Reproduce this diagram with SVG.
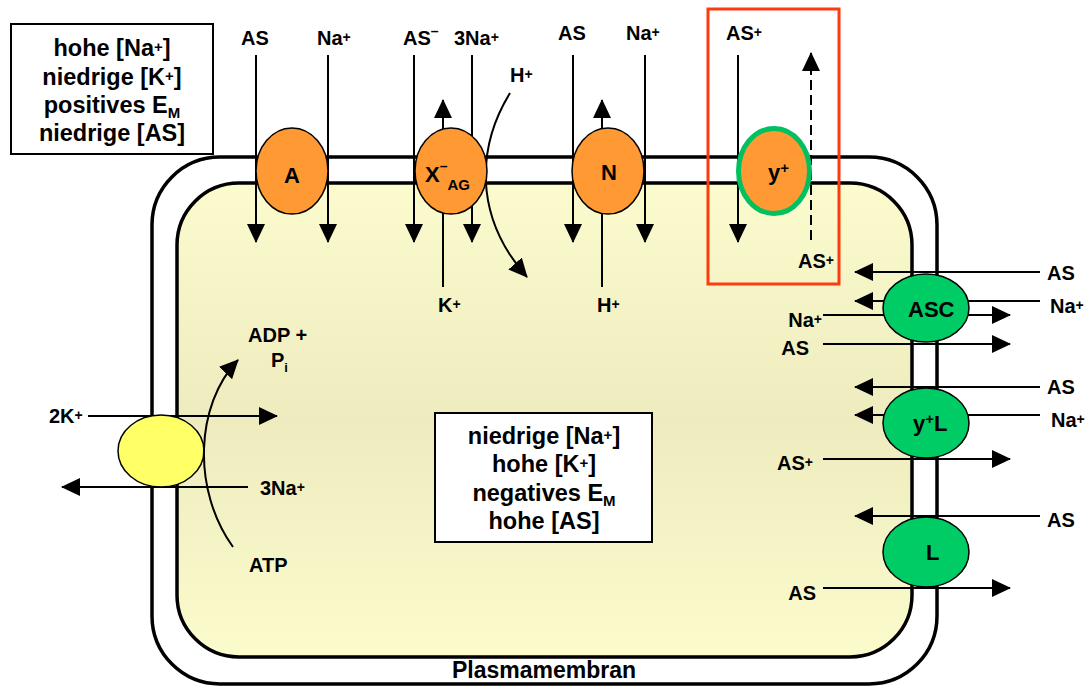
<svg xmlns="http://www.w3.org/2000/svg" width="1088" height="686" viewBox="0 0 1088 686">
<style>
text{font-family:"Liberation Sans",Arial,sans-serif;font-weight:bold;fill:#000}
.lbl{font-size:20px}
.box{font-size:23.5px;text-anchor:middle}
.tp{font-size:22px}
.ln{stroke:#000;stroke-width:2;fill:none}
.mem{stroke:#000;stroke-width:3.5}
.orange{fill:#FF9933;stroke:#000;stroke-width:1.5}
.green{fill:#00CC66;stroke:#000;stroke-width:1.5}
</style>
<defs>
<marker id="ah" markerUnits="userSpaceOnUse" viewBox="0 0 19 18" markerWidth="19" markerHeight="18" refX="18" refY="9" orient="auto">
<path d="M0,0 L19,9 L0,18 z" fill="#000"/>
</marker>
<linearGradient id="cyto" x1="0" y1="0" x2="0" y2="1">
<stop offset="0" stop-color="#FBFBCD"/>
<stop offset="0.5" stop-color="#EEECBF"/>
<stop offset="1" stop-color="#FBFBCC"/>
</linearGradient>
</defs>

<g id="membrane">
<rect x="152" y="157" width="785" height="527" rx="68" ry="68" fill="#FFFFFF" class="mem"/>
<rect x="177" y="183" width="735" height="474" rx="62" ry="62" fill="url(#cyto)" class="mem"/>
<text x="544" y="678" style="font-size:23px;text-anchor:middle">Plasmamembran</text>
</g>

<g id="extracellular-box">
<rect x="11" y="24" width="202" height="130" fill="#FFFFFF" stroke="#000" stroke-width="2"/>
<text class="box" x="112" y="56">hohe [Na<tspan font-size="15" dy="-4">+</tspan><tspan dy="4">]</tspan></text>
<text class="box" x="112" y="84.5">niedrige [K<tspan font-size="15" dy="-4">+</tspan><tspan dy="4">]</tspan></text>
<text class="box" x="112" y="113">positives E<tspan font-size="15" dy="5">M</tspan></text>
<text class="box" x="112" y="141">niedrige [AS]</text>
</g>

<g id="intracellular-box">
<rect x="435" y="413" width="217" height="129" fill="#FFFFFF" stroke="#000" stroke-width="2"/>
<text class="box" x="544" y="444">niedrige [Na<tspan font-size="15" dy="-4">+</tspan><tspan dy="4">]</tspan></text>
<text class="box" x="544" y="472">hohe [K<tspan font-size="15" dy="-4">+</tspan><tspan dy="4">]</tspan></text>
<text class="box" x="544" y="501">negatives E<tspan font-size="15" dy="5">M</tspan></text>
<text class="box" x="544" y="529">hohe [AS]</text>
</g>

<g id="connectors">
<!-- A -->
<line class="ln" x1="256" y1="55" x2="256" y2="242" marker-end="url(#ah)"/>
<line class="ln" x1="328" y1="55" x2="328" y2="242" marker-end="url(#ah)"/>
<!-- X-AG -->
<line class="ln" x1="414" y1="55" x2="414" y2="242" marker-end="url(#ah)"/>
<line class="ln" x1="472" y1="55" x2="472" y2="242" marker-end="url(#ah)"/>
<line class="ln" x1="443" y1="287" x2="443" y2="100" marker-end="url(#ah)"/>
<path class="ln" d="M510,93 C478,145 472,215 527,277" marker-end="url(#ah)"/>
<!-- N -->
<line class="ln" x1="573" y1="55" x2="573" y2="242" marker-end="url(#ah)"/>
<line class="ln" x1="645" y1="55" x2="645" y2="242" marker-end="url(#ah)"/>
<line class="ln" x1="602" y1="287" x2="602" y2="100" marker-end="url(#ah)"/>
<!-- y+ -->
<line class="ln" x1="738" y1="55" x2="738" y2="242" marker-end="url(#ah)"/>
<line class="ln" x1="811" y1="240" x2="811" y2="53" stroke-width="2.5" stroke-dasharray="10,5" marker-end="url(#ah)"/>
<!-- ASC -->
<line class="ln" x1="1040" y1="272" x2="855" y2="272" marker-end="url(#ah)"/>
<line class="ln" x1="1040" y1="301" x2="855" y2="301" marker-end="url(#ah)"/>
<line class="ln" x1="823" y1="315" x2="1010" y2="315" marker-end="url(#ah)"/>
<line class="ln" x1="823" y1="344" x2="1010" y2="344" marker-end="url(#ah)"/>
<!-- y+L -->
<line class="ln" x1="1040" y1="387" x2="855" y2="387" marker-end="url(#ah)"/>
<line class="ln" x1="1040" y1="415" x2="855" y2="415" marker-end="url(#ah)"/>
<line class="ln" x1="823" y1="459" x2="1010" y2="459" marker-end="url(#ah)"/>
<!-- L -->
<line class="ln" x1="1040" y1="516" x2="855" y2="516" marker-end="url(#ah)"/>
<line class="ln" x1="823" y1="588" x2="1010" y2="588" marker-end="url(#ah)"/>
<!-- Na/K pump -->
<line class="ln" x1="88" y1="416" x2="277" y2="416" marker-end="url(#ah)"/>
<line class="ln" x1="248" y1="487" x2="62" y2="487" marker-end="url(#ah)"/>
</g>

<g id="labels">
<text class="lbl" x="241" y="45">AS</text>
<text class="lbl" x="317" y="45">Na<tspan font-size="14" dy="-3">+</tspan></text>
<text class="lbl" x="403" y="45">AS<tspan font-size="14" dy="-9">–</tspan></text>
<text class="lbl" x="454" y="45">3Na<tspan font-size="14" dy="-3">+</tspan></text>
<text class="lbl" x="510" y="82">H<tspan font-size="14" dy="-3">+</tspan></text>
<text class="lbl" x="558" y="40">AS</text>
<text class="lbl" x="626" y="40">Na<tspan font-size="14" dy="-3">+</tspan></text>
<text class="lbl" x="726" y="40">AS<tspan font-size="14" dy="-3">+</tspan></text>
<text class="lbl" x="798" y="268">AS<tspan font-size="14" dy="-3">+</tspan></text>
<text class="lbl" x="438" y="312">K<tspan font-size="14" dy="-3">+</tspan></text>
<text class="lbl" x="597" y="312">H<tspan font-size="14" dy="-3">+</tspan></text>
<text class="lbl" x="1047" y="280">AS</text>
<text class="lbl" x="1050" y="313">Na<tspan font-size="14" dy="-3">+</tspan></text>
<text class="lbl" x="822" y="327" text-anchor="end">Na<tspan font-size="14" dy="-3">+</tspan></text>
<text class="lbl" x="809" y="355" text-anchor="end">AS</text>
<text class="lbl" x="1047" y="394">AS</text>
<text class="lbl" x="1051" y="427">Na<tspan font-size="14" dy="-3">+</tspan></text>
<text class="lbl" x="813" y="470" text-anchor="end">AS<tspan font-size="14" dy="-3">+</tspan></text>
<text class="lbl" x="1047" y="527">AS</text>
<text class="lbl" x="816" y="600" text-anchor="end">AS</text>
<text class="lbl" x="49" y="423">2K<tspan font-size="14" dy="-3">+</tspan></text>
<text class="lbl" x="260" y="495">3Na<tspan font-size="14" dy="-3">+</tspan></text>
<text class="lbl" x="248" y="342">ADP +</text>
<text class="lbl" x="271" y="367">P<tspan font-size="13" dy="5">i</tspan></text>
<text class="lbl" x="249" y="572">ATP</text>
</g>

<g id="node-A">
<ellipse class="orange" cx="292" cy="171" rx="36" ry="43"/>
<text class="tp" x="292" y="183" text-anchor="middle">A</text>
</g>
<g id="node-XAG">
<ellipse class="orange" cx="451" cy="171" rx="36" ry="43"/>
<text class="tp" x="425" y="182">X<tspan font-size="14" dy="-11">–</tspan><tspan font-size="15" dy="19">AG</tspan></text>
</g>
<g id="node-N">
<ellipse class="orange" cx="608" cy="171" rx="36" ry="43"/>
<text class="tp" x="609" y="180" text-anchor="middle">N</text>
</g>
<g id="node-yplus">
<ellipse cx="774" cy="171" rx="35.5" ry="42.5" fill="#FF9933" stroke="#00C060" stroke-width="5"/>
<text class="tp" x="768" y="180">y<tspan font-size="15" dy="-7">+</tspan></text>
<rect x="708" y="9" width="131" height="275" fill="none" stroke="#FF3A10" stroke-width="3"/>
</g>
<g id="node-ASC">
<ellipse class="green" cx="926" cy="308" rx="43" ry="34"/>
<text class="tp" x="908" y="317">ASC</text>
</g>
<g id="node-yplusL">
<ellipse class="green" cx="926" cy="423" rx="43" ry="35"/>
<text class="tp" x="913" y="431">y<tspan font-size="15" dy="-7">+</tspan><tspan dy="7">L</tspan></text>
</g>
<g id="node-L">
<ellipse class="green" cx="926" cy="552" rx="43" ry="35"/>
<text class="tp" x="926" y="560">L</text>
</g>
<g id="node-pump">
<ellipse cx="161" cy="451" rx="43" ry="36" fill="#FFFF66" stroke="#000" stroke-width="1.5"/>
<path class="ln" d="M233,547 C192,490 195,405 238,360" marker-end="url(#ah)"/>
</g>
</svg>
